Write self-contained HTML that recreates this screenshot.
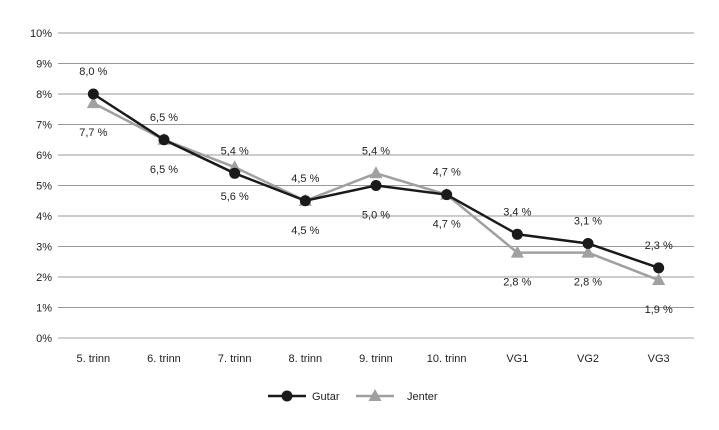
<!DOCTYPE html>
<html><head><meta charset="utf-8"><style>
body{margin:0;background:#fff;}
svg text{font-family:"Liberation Sans",sans-serif;font-size:11px;fill:#222;}
</style></head><body>
<svg id="chart" width="719" height="425" xmlns="http://www.w3.org/2000/svg"></svg>
<script>
const categories=["5. trinn","6. trinn","7. trinn","8. trinn","9. trinn","10. trinn","VG1","VG2","VG3"];
const gutar=[8.0,6.5,5.4,4.5,5.0,4.7,3.4,3.1,2.3];
const jenter=[7.7,6.5,5.6,4.5,5.4,4.7,2.8,2.8,1.9];
const gutarLabelSide=["up","up","up","up","down","up","up","up","up"];
const jenterLabelSide=["down","down","down","down","up","down","down","down","down"];
const yTicks=[0,1,2,3,4,5,6,7,8,9,10];
const svg=document.getElementById('chart');
const NS='http://www.w3.org/2000/svg';
const left=58,right=694,y0=338,y10=33;
const x=i=>left+(right-left)/categories.length*(i+0.5);
const y=v=>y0-(y0-y10)*v/10;
function mk(t,a){const e=document.createElementNS(NS,t);for(const k in a)e.setAttribute(k,a[k]);svg.appendChild(e);return e;}
yTicks.forEach(v=>{
 const g=mk('line',{x1:left,x2:right,y1:y(v),y2:y(v),stroke:v===0?'#888':'#777','stroke-width':0.8});
 
 
 const t=mk('text',{x:52,y:y(v)+4,'text-anchor':'end'});t.textContent=v+'%';
 
 
});
categories.forEach((c,i)=>{
 const t=mk('text',{x:x(i),y:362,'text-anchor':'middle'});t.textContent=c;
 
 
});
function series(vals,sides,color,shape,name){
 const p=mk('polyline',{points:vals.map((v,i)=>x(i)+','+y(v)).join(' '),fill:'none',stroke:color,'stroke-width':2.5});
 
 
 vals.forEach((v,i)=>{
  let m;
  if(shape==='circle')m=mk('circle',{cx:x(i),cy:y(v),r:5.5,fill:color});
  else{const cx=x(i),cy=y(v);m=mk('polygon',{points:`${cx},${cy-7} ${cx-6.5},${cy+5} ${cx+6.5},${cy+5}`,fill:color});}
  
  
  const up=sides[i]==='up';
  const t=mk('text',{x:x(i),y:up?y(v)-19:y(v)+33,'text-anchor':'middle'});
  t.textContent=v.toFixed(1).replace('.',',')+' %';
  
  
 });
}
series(jenter,jenterLabelSide,'#a0a0a0','tri','jenter');
series(gutar,gutarLabelSide,'#1a1a1a','circle','gutar');
// legend
let l=mk('line',{x1:268,x2:306,y1:396,y2:396,stroke:'#1a1a1a','stroke-width':2.5});


let c=mk('circle',{cx:287,cy:396,r:5.5,fill:'#1a1a1a'});


let t=mk('text',{x:312,y:400});t.textContent='Gutar';


l=mk('line',{x1:356,x2:394,y1:396,y2:396,stroke:'#a0a0a0','stroke-width':2.5});


c=mk('polygon',{points:'375,389 368.5,401 381.5,401',fill:'#a0a0a0'});


t=mk('text',{x:407,y:400});t.textContent='Jenter';


</script>
</body></html>
